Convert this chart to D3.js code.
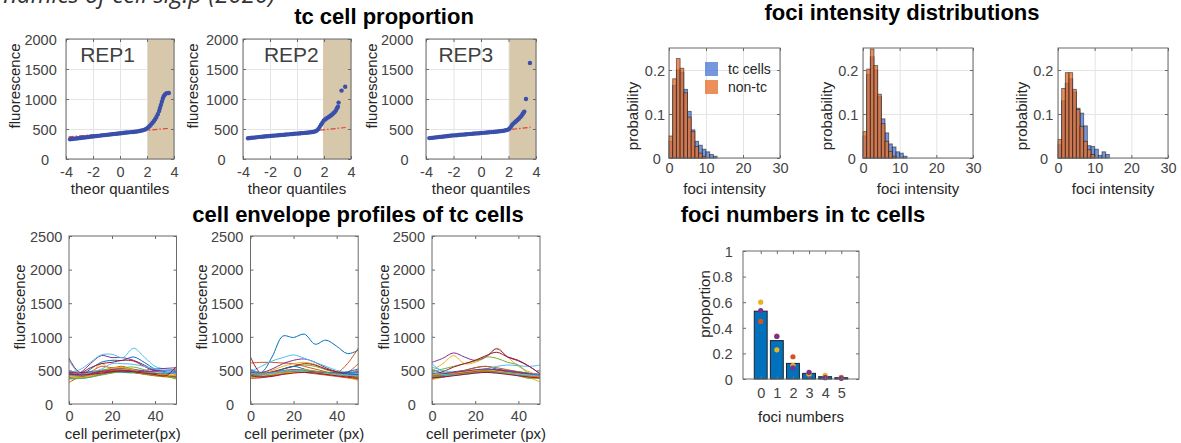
<!DOCTYPE html>
<html><head><meta charset="utf-8">
<script src="https://cdn.jsdelivr.net/npm/d3@7"></script>
<style>body{margin:0;background:#fff;} svg{display:block;}</style>
</head><body><script>
// ---------------- DATA ----------------
const qqTicksX=[-4,-2,0,2,4];
const qqTicksY=[0,500,1000,1500,2000];
const repNames=["REP1","REP2","REP3"];
const tcThreshold=[2.05,1.93,2.06];
const rep1X=[-3.7,-3.55,-3.4,-3.25,-3.1,-2.95,-2.8,-2.65,-2.5,-2.35,-2.2,-2.05,-1.9,-1.75,-1.6,-1.45,-1.3,-1.15,-1.0,-0.85,-0.7,-0.55,-0.4,-0.25,-0.1,0.05,0.2,0.35,0.5,0.65,0.8,0.95,1.1,1.25,1.4,1.52,1.65,1.78,1.9,2.0,2.1,2.2,2.3,2.4,2.5,2.6,2.7,2.8,2.9,2.96,3.03,3.1,3.17,3.24,3.33,3.45,3.62];
const rep1Y=[330,334,338,342,346,350,354,358,362,366,370,374,378,382,386,390,394,398,402,406,410,414,418,422,426,430,434,437,441,444,448,451,455,459,464,470,477,486,497,510,528,550,575,602,630,662,700,745,800,850,900,955,1005,1045,1075,1095,1100];
const rep2X=[-3.63,-3.48,-3.33,-3.18,-3.03,-2.88,-2.73,-2.58,-2.43,-2.28,-2.13,-1.98,-1.83,-1.68,-1.53,-1.38,-1.23,-1.08,-0.93,-0.78,-0.63,-0.48,-0.33,-0.18,-0.03,0.12,0.27,0.42,0.57,0.72,0.87,1.02,1.17,1.32,1.45,1.57,1.68,1.78,1.88,1.98,2.08,2.18,2.28,2.38,2.48,2.58,2.68,2.78,2.88,2.96,3.03,3.08,3.3,3.57];
const rep2Y=[345,349,353,357,361,365,369,372,375,378,381,384,387,390,393,396,399,402,405,408,411,414,417,420,423,426,429,432,435,438,442,446,451,458,470,495,535,570,605,640,660,675,690,705,720,738,758,780,810,845,870,940,1140,1205];
const rep3X=[-3.76,-3.6,-3.45,-3.3,-3.15,-3.0,-2.85,-2.7,-2.55,-2.4,-2.25,-2.1,-1.95,-1.8,-1.65,-1.5,-1.35,-1.2,-1.05,-0.9,-0.75,-0.6,-0.45,-0.3,-0.15,0,0.15,0.3,0.45,0.6,0.75,0.9,1.05,1.2,1.35,1.5,1.65,1.8,1.95,2.05,2.15,2.25,2.35,2.45,2.55,2.65,2.75,2.85,2.95,3.03,3.1,3.15,3.27,3.56];
const rep3Y=[348,352,356,360,364,368,372,376,380,384,388,391,394,397,400,403,406,409,412,415,418,421,424,427,430,433,436,439,442,445,448,451,454,458,462,466,471,478,488,502,530,565,590,610,630,650,672,695,722,750,775,790,1000,1600];
const refLineX=[[-3.8,3.62],[-3.7,3.6],[-3.8,3.6]];
const refLineY=[[370,510],[352,525],[330,530]];

const histTicksX=[0,10,20,30];
const histTicksY=[0,0.1,0.2];
const histTc1=[0.038,0.165,0.2,0.195,0.156,0.106,0.064,0.038,0.029,0.02,0.014,0.008,0.004];
const histNon1=[0.05,0.18,0.226,0.204,0.148,0.093,0.06,0.026,0.011,0.004];
const histTc2=[0.05,0.19,0.23,0.2,0.14,0.089,0.057,0.032,0.025,0.014,0.011,0.004];
const histNon2=[0.06,0.202,0.248,0.21,0.145,0.078,0.038,0.015,0.004];
const histTc3=[0.03,0.13,0.17,0.18,0.15,0.113,0.102,0.073,0.028,0.026,0.02,0.006,0.014,0.008];
const histNon3=[0.042,0.158,0.194,0.194,0.156,0.11,0.072,0.038,0.019,0.008];
const legendNames=["tc cells","non-tc"];

const profTicksX=[0,20,40];
const profTicksY=[0,500,1000,1500,2000,2500];
const profX=[0,5,10,15,20,25,30,35,40,45,50];
const profRep1=[
[450,420,520,620,650,650,700,620,520,480,470],
[420,440,480,560,540,560,500,460,450,430,420],
[400,410,450,600,500,480,470,450,420,400,390],
[420,460,600,720,690,690,650,580,500,500,520],
[380,400,430,470,520,540,520,480,450,420,400],
[470,510,620,730,740,690,830,700,560,520,500],
[680,470,540,600,620,650,640,560,490,470,440],
[460,430,450,480,500,510,490,470,460,450,460],
[440,450,470,490,510,500,480,460,440,420,410],
[420,430,460,480,500,520,500,470,450,440,430],
[480,470,480,500,520,530,510,500,520,530,540],
[400,410,450,500,530,540,550,510,460,420,370],
[430,420,440,470,480,470,460,470,480,470,450],
[470,460,470,480,490,480,470,460,450,430,410],
[390,380,400,440,470,480,470,450,430,420,400],
[320,400,420,450,480,500,470,440,420,410,400],
[410,390,420,470,530,540,510,460,440,430,420],
[450,440,450,480,510,500,490,480,490,500,480],
[370,380,400,430,460,480,470,450,430,410,380],
[650,450,470,520,600,600,590,560,520,500,490],
[440,430,440,460,480,490,480,460,440,420,560]];
const profRep2=[
[520,470,700,1010,990,1040,890,950,860,750,800],
[610,620,620,610,600,560,520,480,450,470,600],
[450,460,500,560,600,620,590,520,470,420,380],
[500,470,520,600,650,670,620,540,480,460,470],
[420,430,460,520,560,580,560,510,460,430,420],
[480,560,640,690,730,680,620,560,500,470,480],
[700,450,480,520,560,600,580,520,480,450,440],
[480,440,460,520,560,520,480,460,450,480,520],
[450,440,470,500,510,490,470,450,460,600,830],
[390,400,430,470,500,510,490,460,420,390,360],
[450,420,440,470,490,480,470,460,450,440,430],
[400,410,440,470,480,490,480,460,440,420,400],
[520,460,450,470,480,470,460,450,440,450,460],
[460,430,420,450,470,480,470,450,430,410,400],
[430,410,430,460,480,490,480,470,460,450,440],
[380,390,420,450,480,470,450,430,410,390,370],
[410,420,440,460,470,480,470,450,430,400,350],
[470,460,470,490,510,500,480,470,460,470,480],
[440,450,460,480,490,500,490,470,450,430,410],
[460,440,460,490,500,480,460,450,440,430,420],
[420,400,410,440,460,470,460,440,420,400,380]];
const profRep3=[
[520,460,480,500,540,560,520,500,480,460,440],
[440,450,470,500,540,560,540,510,480,450,420],
[500,600,720,600,620,700,830,700,560,480,420],
[620,680,760,700,650,700,820,700,640,560,450],
[480,520,560,600,640,700,680,620,580,450,420],
[600,480,450,480,500,520,560,580,570,560,580],
[450,480,550,600,650,720,770,700,650,560,450],
[430,440,460,480,500,520,500,480,460,440,430],
[380,400,430,470,490,500,490,460,430,400,380],
[360,400,440,470,480,490,470,450,420,390,330],
[390,410,450,480,500,510,500,480,450,420,410],
[420,430,450,470,490,500,480,460,420,380,400],
[550,500,470,460,470,480,470,450,440,430,420],
[410,420,440,460,480,490,480,470,450,430,420],
[400,410,430,450,470,480,470,450,440,430,420],
[430,440,450,460,480,490,480,460,440,420,410],
[440,450,460,480,500,510,490,470,450,430,410],
[460,450,470,490,510,520,510,490,470,450,440],
[410,420,430,450,470,480,470,460,440,400,380],
[470,440,430,440,460,470,460,450,440,430,430],
[390,400,420,440,460,470,460,440,420,400,390]];

const fociCats=[0,1,2,3,4,5];
const fociTicksY=[0,0.2,0.4,0.6,0.8,1];
const fociMean=[0.53,0.30,0.122,0.044,0.018,0.01];
const fociRepRed=[0.45,0.335,0.174,0.038,0.015,0.013];
const fociRepYellow=[0.60,0.228,0.104,0.04,0.028,0.008];
const fociRepPurple=[0.535,0.332,0.088,0.052,0.01,0.005];

const titles=["tc cell proportion","foci intensity distributions","cell envelope profiles of tc cells","foci numbers in tc cells"];

// ---------------- DRAW ----------------
const W=1181,H=443;
const FONT="'Liberation Sans', Arial, Helvetica, sans-serif";
const TICKC="#444", LABC="#262626", BOXC="#6b6b6b";
const matlabColors=["#0072BD","#D95319","#EDB120","#7E2F8E","#77AC30","#4DBEEE","#A2142F"];
const svg=d3.select("body").append("svg").attr("width",W).attr("height",H);
svg.append("rect").attr("width",W).attr("height",H).attr("fill","#fff");

// cut-off header text (only its lower edge is inside the picture)
svg.append("text").attr("x",275).attr("y",3).attr("text-anchor","end")
  .attr("font-family","'Open Sans', sans-serif").attr("font-style","italic").attr("font-size",24).attr("fill","#333")
  .text("dynamics of cell sig.p (2020)");

function frame(o){
  const x=d3.scaleLinear().domain(o.xd).range([o.x0,o.x0+o.w]);
  const y=d3.scaleLinear().domain(o.yd).range([o.y0+o.h,o.y0]);
  const g=svg.append("g");
  if(o.grid){
    const gx=g.append("g").attr("transform",`translate(0,${o.y0+o.h})`)
      .call(d3.axisBottom(x).tickValues(o.xt).tickSize(-o.h).tickFormat(""));
    gx.select(".domain").remove(); gx.selectAll("line").attr("stroke","#e4e4e4");
    const gy=g.append("g").attr("transform",`translate(${o.x0},0)`)
      .call(d3.axisLeft(y).tickValues(o.yt).tickSize(-o.w).tickFormat(""));
    gy.select(".domain").remove(); gy.selectAll("line").attr("stroke","#e4e4e4");
  }
  return {x,y,o,g:svg.append("g")};
}
function finish(f){
  const {x,y,o}=f;
  const g=svg.append("g");
  const fmt=d=>String(d);
  const bx=g.append("g").attr("transform",`translate(0,${o.y0+o.h})`)
    .call(d3.axisBottom(x).tickValues(o.xt).tickSize(-3).tickFormat(fmt));
  bx.select(".domain").remove();
  bx.attr("font-size",14.5).attr("font-family",FONT);
  bx.selectAll("line").attr("stroke",BOXC);
  bx.selectAll("text").attr("y",o.xTickBase-(o.y0+o.h)).attr("dy",null).attr("fill",TICKC);
  const tx=g.append("g").attr("transform",`translate(0,${o.y0})`)
    .call(d3.axisTop(x).tickValues(o.xt).tickSize(-3).tickFormat(""));
  tx.select(".domain").remove(); tx.selectAll("line").attr("stroke",BOXC);
  const ly=g.append("g").attr("transform",`translate(${o.x0},0)`)
    .call(d3.axisLeft(y).tickValues(o.yt).tickSize(-3).tickFormat(fmt));
  ly.select(".domain").remove();
  ly.attr("font-size",14.5).attr("font-family",FONT);
  ly.selectAll("line").attr("stroke",BOXC);
  ly.selectAll("text").attr("x",o.yRight-o.x0).attr("dy","0.36em").attr("fill",TICKC);
  if(o.zeroX!=null) ly.selectAll(".tick").filter(d=>d===0).select("text").attr("text-anchor","middle").attr("x",o.zeroX-o.x0);
  const ry=g.append("g").attr("transform",`translate(${o.x0+o.w},0)`)
    .call(d3.axisRight(y).tickValues(o.yt).tickSize(-3).tickFormat(""));
  ry.select(".domain").remove(); ry.selectAll("line").attr("stroke",BOXC);
  g.append("rect").attr("x",o.x0).attr("y",o.y0).attr("width",o.w).attr("height",o.h)
    .attr("fill","none").attr("stroke",BOXC).attr("stroke-width",1);
  g.append("text").attr("x",o.x0+o.w/2).attr("y",o.xLabBase).attr("text-anchor","middle")
    .attr("font-family",FONT).attr("font-size",15).attr("fill",LABC).text(o.xLab);
  const cy=o.yLabY!=null?o.yLabY:o.y0+o.h/2;
  g.append("text").attr("transform",`translate(${o.yLabX},${cy}) rotate(-90)`).attr("dy","0.35em")
    .attr("text-anchor","middle").attr("font-family",FONT).attr("font-size",15).attr("fill",LABC).text(o.yLab);
}

// ---- QQ panels ----
const qqBoxes=[{x0:66,w:108,yRight:56.7,zeroX:45,yLabX:15},{x0:243,w:108,yRight:238.3,zeroX:221.5,yLabX:193},{x0:426,w:110,yRight:413.3,zeroX:404.5,yLabX:372}];
const repX=[rep1X,rep2X,rep3X], repY=[rep1Y,rep2Y,rep3Y];
const repLabelPos=[-2.95,-2.45,-3.1];
qqBoxes.forEach((b,i)=>{
  const f=frame({x0:b.x0,y0:39,w:b.w,h:120,xd:[-4,4],yd:[0,2000],xt:qqTicksX,yt:qqTicksY,grid:true});
  f.g.append("rect").attr("x",f.x(tcThreshold[i])).attr("y",f.y(2000)).attr("width",f.x(4)-f.x(tcThreshold[i])).attr("height",f.y(0)-f.y(2000)).attr("fill","#d7c7ab");
  f.g.append("line").attr("x1",f.x(refLineX[i][0])).attr("x2",f.x(refLineX[i][1])).attr("y1",f.y(refLineY[i][0])).attr("y2",f.y(refLineY[i][1]))
    .attr("stroke","#e4432f").attr("stroke-width",1.2).attr("stroke-dasharray","5,2,1.5,2");
  f.g.selectAll("circle").data(repX[i]).join("circle").attr("cx",d=>f.x(d)).attr("cy",(d,j)=>f.y(repY[i][j])).attr("r",2.2).attr("fill","#3a4fab");
  f.g.append("text").attr("x",f.x(repLabelPos[i])).attr("y",f.y(1620)).attr("font-family",FONT).attr("font-size",21).attr("fill","#404040").text(repNames[i]);
  finish({...f,o:{...f.o,yRight:b.yRight,zeroX:b.zeroX,xTickBase:177,xLab:"theor quantiles",xLabBase:194,yLab:"fluorescence",yLabX:b.yLabX,yLabY:86}});
});

// ---- histogram panels ----
const histBoxes=[{x0:669,w:111,yRight:665,zeroX:656.7,yLabX:633},{x0:863,w:110,yRight:858.3,zeroX:851.7,yLabX:827},{x0:1058,w:110,yRight:1053.3,zeroX:1044,yLabX:1022}];
const histTc=[histTc1,histTc2,histTc3], histNon=[histNon1,histNon2,histNon3];
const blueFill="#3f6fd0", orangeFill="#e86f2c";
histBoxes.forEach((b,i)=>{
  const f=frame({x0:b.x0,y0:48,w:b.w,h:110,xd:[0,30],yd:[0,0.25],xt:histTicksX,yt:histTicksY,grid:true});
  [[histTc[i],blueFill,0.72],[histNon[i],orangeFill,0.78]].forEach(([vals,col,op])=>{
    f.g.append("g").selectAll("rect").data(vals.map((v,k)=>({k,v})).filter(d=>d.v>0)).join("rect")
      .attr("x",d=>f.x(d.k)).attr("width",d=>f.x(d.k+1)-f.x(d.k)).attr("y",d=>f.y(d.v)).attr("height",d=>f.y(0)-f.y(d.v))
      .attr("fill",col).attr("fill-opacity",op).attr("stroke","#1a1a1a").attr("stroke-opacity",0.6).attr("stroke-width",0.9);
  });
  if(i===0){
    [[blueFill,62,0.72],[orangeFill,80,0.78]].forEach(([c,yy,op],k)=>{
      f.g.append("rect").attr("x",705).attr("y",yy).attr("width",13).attr("height",14).attr("fill",c).attr("fill-opacity",op);
      f.g.append("text").attr("x",728).attr("y",yy+12).attr("font-family",FONT).attr("font-size",14).attr("fill",LABC).text(legendNames[k]);
    });
  }
  finish({...f,o:{...f.o,yRight:b.yRight,zeroX:b.zeroX,xTickBase:173,xLab:"foci intensity",xLabBase:194,yLab:"probability",yLabX:b.yLabX,yLabY:116}});
});

// ---- profile panels ----
const profBoxes=[{x0:69,w:107.5,yRight:62.3,zeroX:49,yLabX:20,xLab:"cell perimeter(px)"},{x0:250.5,w:107.7,yRight:243.3,zeroX:230,yLabX:202,xLab:"cell perimeter (px)"},{x0:432,w:108,yRight:425,zeroX:411.7,yLabX:384,xLab:"cell perimeter (px)"}];
const profs=[profRep1,profRep2,profRep3];
profBoxes.forEach((b,i)=>{
  const f=frame({x0:b.x0,y0:236,w:b.w,h:168,xd:[0,50],yd:[0,2500],xt:profTicksX,yt:profTicksY,grid:false});
  const line=d3.line().x((d,k)=>f.x(profX[k])).y(d=>f.y(d)).curve(d3.curveCatmullRom.alpha(0.5));
  f.g.selectAll("path").data(profs[i]).join("path").attr("d",line).attr("fill","none")
    .attr("stroke",(d,k)=>matlabColors[k%7]).attr("stroke-width",1);
  finish({...f,o:{...f.o,yRight:b.yRight,zeroX:b.zeroX,xTickBase:420.5,xLab:b.xLab,xLabBase:438.5,yLab:"fluorescence",yLabX:b.yLabX,yLabY:307}});
});

// ---- foci numbers bar chart ----
{
  const f=frame({x0:743,y0:251,w:116,h:128,xd:[-1.1,6.1],yd:[0,1],xt:fociCats,yt:fociTicksY,grid:false});
  f.g.selectAll("rect").data(fociCats).join("rect").attr("x",d=>f.x(d-0.4)).attr("width",d=>f.x(d+0.4)-f.x(d-0.4))
    .attr("y",(d,k)=>f.y(fociMean[k])).attr("height",(d,k)=>f.y(0)-f.y(fociMean[k]))
    .attr("fill","#0072BD").attr("stroke","#222").attr("stroke-width",1);
  [[fociRepRed,"#D95319"],[fociRepYellow,"#EDB120"],[fociRepPurple,"#7E2F8E"]].forEach(([vals,c])=>{
    f.g.append("g").selectAll("circle").data(fociCats).join("circle").attr("cx",d=>f.x(d)).attr("cy",(d,k)=>f.y(vals[k])).attr("r",2.6).attr("fill",c);
  });
  finish({...f,o:{...f.o,yRight:732.7,zeroX:null,xTickBase:398,xLab:"foci numbers",xLabBase:422,yLab:"proportion",yLabX:705,yLabY:304}});
}

// ---- titles ----
[[titles[0],384,24],[titles[1],902,19.5],[titles[2],358,222],[titles[3],803,222]].forEach(([t,x,y])=>{
  svg.append("text").attr("x",x).attr("y",y).attr("text-anchor","middle").attr("font-family",FONT)
    .attr("font-weight","bold").attr("font-size",22).attr("fill","#000").text(t);
});
</script></body></html>
